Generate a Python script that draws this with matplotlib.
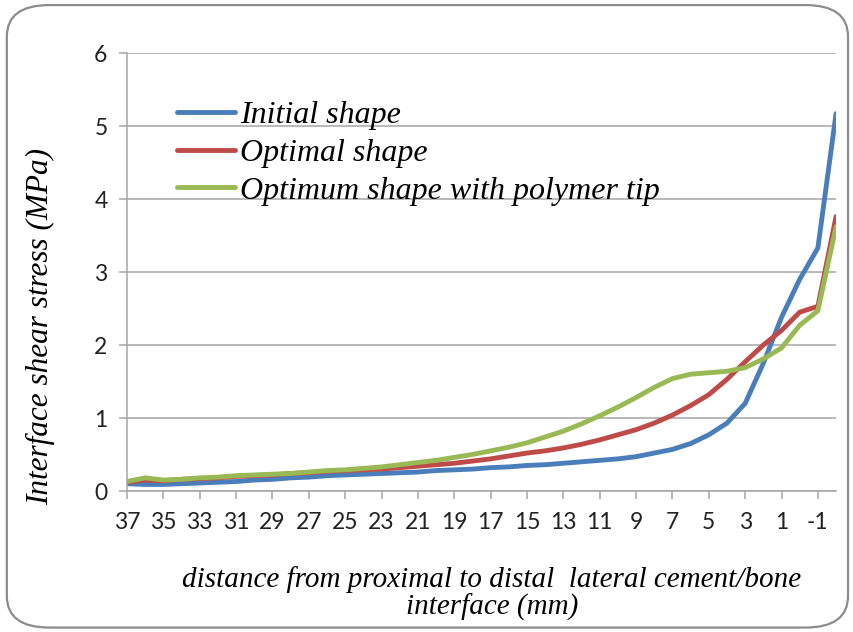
import numpy as np
import matplotlib
matplotlib.use("Agg")
from matplotlib import pyplot as plt
from matplotlib.patches import FancyBboxPatch

# distance from proximal to distal (mm), one point per category
distance = [37, 36, 35, 34, 33, 32, 31, 30, 29, 28, 27, 26, 25, 24, 23, 22, 21, 20, 19, 18,
            17, 16, 15, 14, 13, 12, 11, 10, 9, 8, 7, 6, 5, 4, 3, 2, 1, 0, -1, -2]

initial_shape = [0.10, 0.09, 0.09, 0.10, 0.11, 0.12, 0.13, 0.15, 0.16, 0.18,
                 0.19, 0.21, 0.22, 0.23, 0.24, 0.25, 0.26, 0.28, 0.29, 0.30,
                 0.32, 0.33, 0.35, 0.36, 0.38, 0.40, 0.42, 0.44, 0.47, 0.52,
                 0.57, 0.65, 0.77, 0.93, 1.20, 1.75, 2.38, 2.90, 3.33, 5.17]
optimal_shape = [0.12, 0.15, 0.14, 0.16, 0.17, 0.18, 0.20, 0.21, 0.22, 0.24,
                 0.25, 0.27, 0.28, 0.29, 0.30, 0.32, 0.34, 0.36, 0.38, 0.41,
                 0.44, 0.48, 0.52, 0.55, 0.59, 0.64, 0.70, 0.77, 0.84, 0.93,
                 1.04, 1.17, 1.32, 1.53, 1.77, 2.00, 2.20, 2.45, 2.53, 3.76]
polymer_tip = [0.13, 0.18, 0.15, 0.16, 0.18, 0.19, 0.21, 0.22, 0.23, 0.24,
               0.26, 0.28, 0.29, 0.31, 0.33, 0.36, 0.39, 0.42, 0.46, 0.50,
               0.55, 0.60, 0.66, 0.74, 0.82, 0.92, 1.03, 1.15, 1.28, 1.42,
               1.54, 1.60, 1.62, 1.64, 1.69, 1.81, 1.96, 2.27, 2.47, 3.62]

series_names = ["Initial shape", "Optimal shape", "Optimum shape with polymer tip"]
series_colors = ["#4A7EBB", "#BE4B48", "#98B954"]
tick_labels = [37, 35, 33, 31, 29, 27, 25, 23, 21, 19, 17, 15, 13, 11, 9, 7, 5, 3, 1, -1]

serif_it = {"family": "Liberation Serif", "style": "italic"}
plt.rcParams["font.family"] = "Lato"

fig = plt.figure(figsize=(8.54, 6.32), dpi=100)
# rounded chart-area border
fig.patches.append(FancyBboxPatch((0.008, 0.007), 0.985, 0.985, boxstyle="round,pad=0,rounding_size=0.05",
                                  transform=fig.transFigure, fill=False, ec="#8c8c8c", lw=1.6))

ax = fig.add_axes([0.1487, 0.2231, 0.8303, 0.6930])
for vals, name, col in zip([initial_shape, optimal_shape, polymer_tip], series_names, series_colors):
    ax.plot(distance, vals, color=col, lw=3.5, label=name, solid_capstyle="round")

ax.set_xlim(37, -2)
ax.set_ylim(0, 6)
ax.set_xticks(tick_labels)
ax.set_xticklabels([str(t) for t in tick_labels])
ax.set_yticks(range(0, 7))
ax.grid(axis="y", color="#a6a6a6", lw=1.1)
ax.set_axisbelow(True)
for s in ["top", "right"]:
    ax.spines[s].set_visible(False)
for s in ["left", "bottom"]:
    ax.spines[s].set_color("#a6a6a6")
    ax.spines[s].set_linewidth(1.1)
ax.tick_params(axis="both", direction="out", length=6, width=1.1, color="#a6a6a6",
               labelsize=16.5, labelcolor="#222222")
ax.tick_params(axis="x", pad=9)
ax.tick_params(axis="y", pad=8)

fig.text(0.047, 0.484, "Interface shear stress (MPa)", rotation=90, ha="center", va="center",
         fontsize=22.5, **serif_it)
fig.text(0.576, 0.017, "distance from proximal to distal  lateral cement/bone\ninterface (mm)",
         ha="center", va="bottom", fontsize=21, linespacing=1.05, **serif_it)

leg = ax.legend(loc="upper left", bbox_to_anchor=(0.053, 0.92), frameon=False,
                prop=dict(serif_it, size=23), handlelength=1.8, handletextpad=0.15,
                labelspacing=0.26, borderaxespad=0)

fig.savefig("out.png", dpi=100)
